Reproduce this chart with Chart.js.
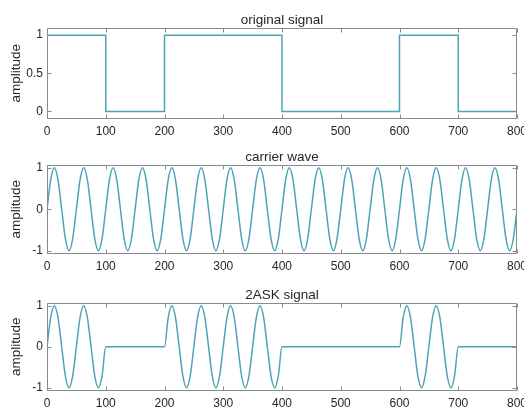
<!DOCTYPE html>
<html>
<head>
<meta charset="utf-8">
<script src="https://cdn.jsdelivr.net/npm/chart.js@4"></script>
<style>
  html, body { margin: 0; padding: 0; background: #fff; }
  #wrap { position: relative; width: 524px; height: 408px; overflow: hidden; }
  #wrap canvas { position: absolute; left: 0; }
</style>
</head>
<body>
<div id="wrap">
  <canvas id="sig" width="524" height="137" style="top:0"></canvas>
  <canvas id="car" width="524" height="138" style="top:137px"></canvas>
  <canvas id="ask" width="524" height="133" style="top:275px"></canvas>
</div>
<script>
// original (on/off) signal, as corner points of the square wave
const stepT   = [0, 100, 100, 200, 200, 400, 400, 600, 600, 700, 700, 800];
const stepAmp = [1, 1,   0,   0,   1,   1,   0,   0,   1,   1,   0,   0];

// sample times for the carrier and the 2ASK curve (8 samples per carrier period)
const sampleT = [
  0, 6.25, 12.5, 18.75, 25, 31.25, 37.5, 43.75,
  50, 56.25, 62.5, 68.75, 75, 81.25, 87.5, 93.75,
  100, 106.25, 112.5, 118.75, 125, 131.25, 137.5, 143.75,
  150, 156.25, 162.5, 168.75, 175, 181.25, 187.5, 193.75,
  200, 206.25, 212.5, 218.75, 225, 231.25, 237.5, 243.75,
  250, 256.25, 262.5, 268.75, 275, 281.25, 287.5, 293.75,
  300, 306.25, 312.5, 318.75, 325, 331.25, 337.5, 343.75,
  350, 356.25, 362.5, 368.75, 375, 381.25, 387.5, 393.75,
  400, 406.25, 412.5, 418.75, 425, 431.25, 437.5, 443.75,
  450, 456.25, 462.5, 468.75, 475, 481.25, 487.5, 493.75,
  500, 506.25, 512.5, 518.75, 525, 531.25, 537.5, 543.75,
  550, 556.25, 562.5, 568.75, 575, 581.25, 587.5, 593.75,
  600, 606.25, 612.5, 618.75, 625, 631.25, 637.5, 643.75,
  650, 656.25, 662.5, 668.75, 675, 681.25, 687.5, 693.75,
  700, 706.25, 712.5, 718.75, 725, 731.25, 737.5, 743.75,
  750, 756.25, 762.5, 768.75, 775, 781.25, 787.5, 793.75,
  800
];

const carrierAmp = [
  0, 0.71, 1, 0.71, 0, -0.71, -1, -0.71,
  0, 0.71, 1, 0.71, 0, -0.71, -1, -0.71,
  0, 0.71, 1, 0.71, 0, -0.71, -1, -0.71,
  0, 0.71, 1, 0.71, 0, -0.71, -1, -0.71,
  0, 0.71, 1, 0.71, 0, -0.71, -1, -0.71,
  0, 0.71, 1, 0.71, 0, -0.71, -1, -0.71,
  0, 0.71, 1, 0.71, 0, -0.71, -1, -0.71,
  0, 0.71, 1, 0.71, 0, -0.71, -1, -0.71,
  0, 0.71, 1, 0.71, 0, -0.71, -1, -0.71,
  0, 0.71, 1, 0.71, 0, -0.71, -1, -0.71,
  0, 0.71, 1, 0.71, 0, -0.71, -1, -0.71,
  0, 0.71, 1, 0.71, 0, -0.71, -1, -0.71,
  0, 0.71, 1, 0.71, 0, -0.71, -1, -0.71,
  0, 0.71, 1, 0.71, 0, -0.71, -1, -0.71,
  0, 0.71, 1, 0.71, 0, -0.71, -1, -0.71,
  0, 0.71, 1, 0.71, 0, -0.71, -1, -0.71,
  0
];

const askAmp = [
  0, 0.71, 1, 0.71, 0, -0.71, -1, -0.71,
  0, 0.71, 1, 0.71, 0, -0.71, -1, -0.71,
  0, 0, 0, 0, 0, 0, 0, 0,
  0, 0, 0, 0, 0, 0, 0, 0,
  0, 0.71, 1, 0.71, 0, -0.71, -1, -0.71,
  0, 0.71, 1, 0.71, 0, -0.71, -1, -0.71,
  0, 0.71, 1, 0.71, 0, -0.71, -1, -0.71,
  0, 0.71, 1, 0.71, 0, -0.71, -1, -0.71,
  0, 0, 0, 0, 0, 0, 0, 0,
  0, 0, 0, 0, 0, 0, 0, 0,
  0, 0, 0, 0, 0, 0, 0, 0,
  0, 0, 0, 0, 0, 0, 0, 0,
  0, 0.71, 1, 0.71, 0, -0.71, -1, -0.71,
  0, 0.71, 1, 0.71, 0, -0.71, -1, -0.71,
  0, 0, 0, 0, 0, 0, 0, 0,
  0, 0, 0, 0, 0, 0, 0, 0,
  0
];

const xTicks    = [0, 100, 200, 300, 400, 500, 600, 700, 800];
const sigTicks  = [0, 0.5, 1];
const waveTicks = [-1, 0, 1];

const LINE = '#4fa3b7';
const AXIS = '#8a8a8a';
const TEXT = '#262626';
const FAMILY = '"Liberation Sans", Arial, Helvetica, sans-serif';

// MATLAB-like box with inward tick marks on all four sides
const boxTicks = {
  id: 'boxTicks',
  afterDraw(chart) {
    const { ctx, chartArea: a, scales: { x, y } } = chart;
    const L = Math.round(a.left) + 0.5, R = Math.round(a.right) - 0.5;
    const T = Math.round(a.top) + 0.5, B = Math.round(a.bottom) - 0.5;
    ctx.save();
    ctx.strokeStyle = AXIS;
    ctx.lineWidth = 1;
    ctx.beginPath();
    ctx.rect(L, T, R - L, B - T);
    x.ticks.forEach((t) => {
      const px = Math.round(x.getPixelForValue(t.value)) + 0.5;
      ctx.moveTo(px, B); ctx.lineTo(px, B - 4);
      ctx.moveTo(px, T); ctx.lineTo(px, T + 4);
    });
    y.ticks.forEach((t) => {
      const py = Math.round(y.getPixelForValue(t.value)) + 0.5;
      ctx.moveTo(L, py); ctx.lineTo(L + 4, py);
      ctx.moveTo(R, py); ctx.lineTo(R - 4, py);
    });
    ctx.stroke();
    ctx.restore();
  }
};

function plot(id, title, xs, ys, yMin, yMax, yTicks, areaBottom, smooth) {
  const canvas = document.getElementById(id);
  return new Chart(canvas, {
    type: 'line',
    data: {
      datasets: [{
        data: xs.map((x, i) => ({ x, y: ys[i] })),
        borderColor: LINE,
        borderWidth: 1.5,
        pointRadius: 0,
        fill: false,
        tension: smooth ? 0.4 : 0,
        cubicInterpolationMode: smooth ? 'monotone' : 'default',
      }],
    },
    options: {
      responsive: false,
      animation: false,
      events: [],
      layout: { padding: { left: 0, right: 7, top: 0, bottom: 0 } },
      plugins: {
        legend: { display: false },
        tooltip: { enabled: false },
        title: {
          display: true, text: title, fullSize: false, color: TEXT,
          font: { family: FAMILY, size: 13.5, weight: 'normal', lineHeight: 1 },
          padding: { top: 14, bottom: 0 },
        },
      },
      scales: {
        x: {
          type: 'linear', min: 0, max: 800,
          grid: { display: false, drawTicks: false },
          border: { display: false },
          afterBuildTicks: (s) => { s.ticks = xTicks.map((v) => ({ value: v })); },
          afterFit: (s) => { s.height = canvas.height - areaBottom; s.paddingLeft = 0; s.paddingRight = 0; },
          ticks: { autoSkip: false, maxRotation: 0, padding: 5, color: TEXT, font: { family: FAMILY, size: 12 } },
        },
        y: {
          type: 'linear', min: yMin, max: yMax,
          grid: { display: false, drawTicks: false },
          border: { display: false },
          afterBuildTicks: (s) => { s.ticks = yTicks.map((v) => ({ value: v })); },
          afterFit: (s) => { s.width = 47; s.paddingTop = 0; s.paddingBottom = 0; },
          title: {
            display: true, text: 'amplitude', color: TEXT,
            font: { family: FAMILY, size: 13.5 },
            padding: { top: 8, bottom: 0 },
          },
          ticks: { padding: 4, color: TEXT, font: { family: FAMILY, size: 12 }, callback: (v) => String(v) },
        },
      },
    },
    plugins: [boxTicks],
  });
}

plot('sig', 'original signal', stepT, stepAmp, -0.1, 1.1, sigTicks, 119, false);
plot('car', 'carrier wave', sampleT, carrierAmp, -1.08, 1.08, waveTicks, 117, true);
plot('ask', '2ASK signal', sampleT, askAmp, -1.08, 1.08, waveTicks, 116, true);
</script>
</body>
</html>
